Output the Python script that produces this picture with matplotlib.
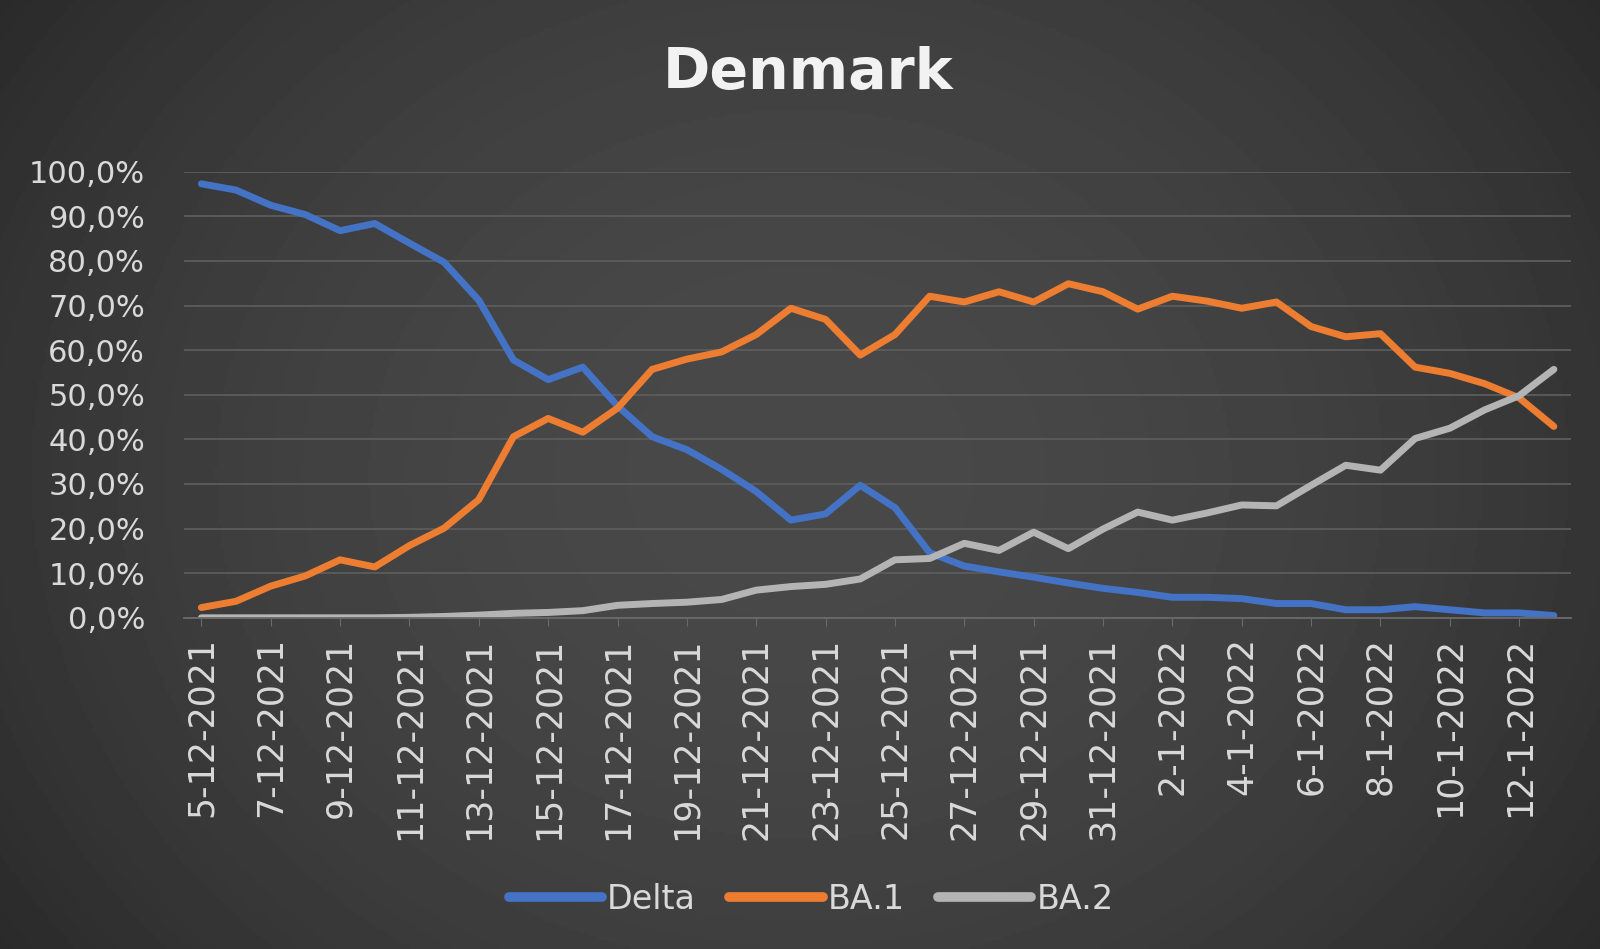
import numpy as np
import matplotlib.pyplot as plt
import datetime as dt

# daily share of variants, Denmark
start = dt.date(2021, 12, 5)
dates = [start + dt.timedelta(days=i) for i in range(40)]
labels = [f"{d.day}-{d.month}-{d.year}" for d in dates]

delta = [97.3, 95.9, 92.5, 90.4, 86.8, 88.4, 84.0, 79.7, 71.2, 57.8,
         53.4, 56.2, 47.5, 40.6, 37.7, 33.3, 28.3, 21.9, 23.3, 29.7,
         24.7, 14.6, 11.6, 10.3, 9.1, 7.8, 6.6, 5.7, 4.6, 4.6,
         4.3, 3.2, 3.2, 1.8, 1.8, 2.5, 1.8, 1.1, 1.1, 0.5]
ba1 = [2.3, 3.7, 7.1, 9.4, 13.0, 11.4, 16.2, 20.1, 26.5, 40.6,
       44.7, 41.6, 47.0, 55.7, 58.0, 59.6, 63.5, 69.4, 66.9, 58.9,
       63.5, 72.1, 70.8, 73.1, 70.8, 74.9, 73.1, 69.2, 72.1, 71.0,
       69.4, 70.8, 65.3, 63.0, 63.7, 56.2, 54.8, 52.5, 49.3, 42.9]
ba2 = [0.0, 0.0, 0.0, 0.0, 0.0, 0.0, 0.1, 0.3, 0.6, 1.0,
       1.2, 1.6, 2.8, 3.2, 3.5, 4.1, 6.2, 7.0, 7.5, 8.7,
       13.0, 13.3, 16.7, 15.1, 19.2, 15.5, 19.9, 23.7, 21.9, 23.5,
       25.3, 25.1, 29.7, 34.2, 33.1, 40.2, 42.5, 46.6, 49.8, 55.7]

series = [("Delta", delta, "#4472C4"),
          ("BA.1", ba1, "#ED7D31"),
          ("BA.2", ba2, "#B4B4B4")]

txt = "#d9d9d9"
fig = plt.figure(figsize=(16, 9.49), dpi=100)

# dark radial background, a bit lighter in the middle
bg = fig.add_axes([0, 0, 1, 1])
yy, xx = np.mgrid[-1:1:300j, -1:1:500j]
r = np.sqrt(xx**2 + (yy * 0.7)**2)
bg.imshow(0.285 - 0.08 * r**2, cmap="gray", vmin=0, vmax=1,
          aspect="auto", extent=[0, 1, 0, 1])
bg.axis("off")

ax = fig.add_axes([0.115, 0.349, 0.867, 0.470])
ax.patch.set_alpha(0)
x = np.arange(len(dates))
for name, vals, col in series:
    ax.plot(x, np.array(vals) / 100, color=col, lw=5,
            solid_capstyle="round", solid_joinstyle="round", label=name)

ax.set_xlim(-0.5, len(dates) - 0.5)
ax.set_ylim(0, 1.0)
ax.set_yticks(np.arange(0, 1.01, 0.1))
ax.set_yticklabels([f"{v:.1f}%".replace(".", ",") for v in np.arange(0, 101, 10)],
                   color=txt, fontsize=22)
ax.set_xticks(x[::2])
ax.set_xticklabels(labels[::2], rotation=90, color=txt, fontsize=25)
ax.tick_params(axis="y", length=0, pad=28)
ax.tick_params(axis="x", length=6, color="#6a6a6a", pad=8)
ax.grid(True, axis="y", color="#5c5c5c", lw=1.3)
ax.set_axisbelow(True)
for s in ["top", "right", "left"]:
    ax.spines[s].set_visible(False)
ax.spines["bottom"].set_color("#6a6a6a")
ax.spines["bottom"].set_linewidth(1.3)

fig.text(0.505, 0.923, "Denmark", ha="center", va="center", fontsize=41,
         fontweight="bold", color="#f2f2f2")

leg = fig.legend(loc="center", bbox_to_anchor=(0.507, 0.052), ncol=3,
                 frameon=False, fontsize=24, handlelength=2.8,
                 handletextpad=0.15, columnspacing=1.0)
for t in leg.get_texts():
    t.set_color(txt)
for h in leg.get_lines():
    h.set_linewidth(7)

fig.savefig("out.png", dpi=100)
